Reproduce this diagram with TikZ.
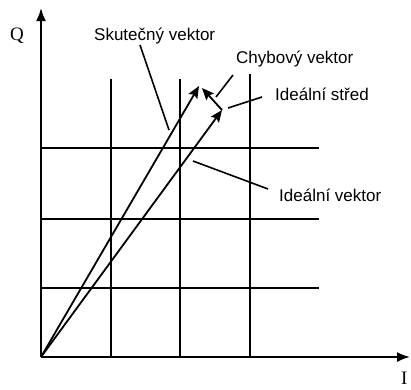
\documentclass[tikz,border=0pt]{standalone}
\usepackage{fontspec}
\setsansfont{Liberation Sans}
\setmainfont{Liberation Serif}
\usetikzlibrary{arrows.meta}
\begin{document}
\begin{tikzpicture}[x=1pt,y=-1pt,
  grid/.style={line width=1.7pt},
  axis/.style={line width=1.8pt,-{Latex[length=13pt,width=10pt]}},
  vec/.style={line width=1.8pt,-{Stealth[length=12pt,width=10pt,inset=2pt]}},
  lead/.style={line width=1.6pt},
  lbl/.style={font=\sffamily\fontsize{17}{20}\selectfont,inner sep=0pt,anchor=base west},
  axl/.style={font=\rmfamily\fontsize{19}{22}\selectfont,inner sep=0pt,anchor=base west}]
\useasboundingbox (0,0) rectangle (411,389);
\coordinate (O) at (41,357);
\coordinate (Ytop) at (41,8);
\coordinate (Xend) at (410,357);
% grid
\draw[grid] (111,79) -- (111,357);
\draw[grid] (180,79) -- (180,357);
\draw[grid] (250,74) -- (250,357);
\draw[grid] (41,148) -- (319,148);
\draw[grid] (41,219) -- (319,219);
\draw[grid] (41,288) -- (319,288);
% axes
\draw[axis] (O) -- (Ytop);
\draw[axis] (O) -- (Xend);
\node[axl] (Q) at (10,40) {Q};
\node[axl] (I) at (401,384) {I};
% vectors
\coordinate (A) at (199,86);
\coordinate (B) at (222,110);
\coordinate (E) at (202,88);
\draw[vec] (O) -- (A);
\draw[vec] (O) -- (B);
\draw[vec] (B) -- (E);
% labels
\node[lbl] (skut) at (94,40) {Skutečný vektor};
\node[lbl] (chyb) at (236,63) {Chybový vektor};
\node[lbl] (stred) at (275,100) {Ideální střed};
\node[lbl] (ideal) at (279,201) {Ideální vektor};
% leaders
\coordinate (s1) at (140,45); \coordinate (s2) at (169,130);
\coordinate (c1) at (233,75); \coordinate (c2) at (216,97);
\coordinate (t1) at (262,97); \coordinate (t2) at (228,108);
\coordinate (i1) at (268,189); \coordinate (i2) at (193,161);
\draw[lead] (s1) -- (s2);
\draw[lead] (c1) -- (c2);
\draw[lead] (t1) -- (t2);
\draw[lead] (i1) -- (i2);
\end{tikzpicture}
\end{document}
